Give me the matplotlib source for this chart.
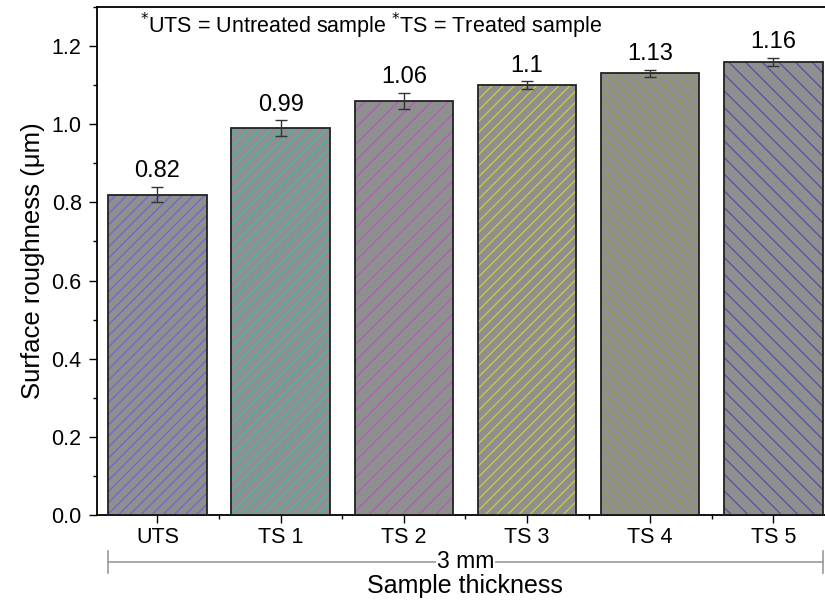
import numpy as np
import matplotlib.pyplot as plt
import matplotlib.transforms as mtransforms
from matplotlib.ticker import MultipleLocator

plt.rcParams['font.family'] = ['Liberation Sans', 'DejaVu Sans']
plt.rcParams['hatch.linewidth'] = 1.0

# data
samples = ["UTS", "TS 1", "TS 2", "TS 3", "TS 4", "TS 5"]
roughness = [0.82, 0.99, 1.06, 1.10, 1.13, 1.16]
errors = [0.02, 0.02, 0.02, 0.01, 0.01, 0.01]
labels = ["0.82", "0.99", "1.06", "1.1", "1.13", "1.16"]
hatch_colors = ["#6b6bd0", "#45b8a8", "#b060b8", "#c8c840", "#9a9a50", "#5656a8"]
hatches = ["///", "///", "//", "///", "\\\\\\", "\\\\"]

fig = plt.figure(figsize=(8.25, 6.03), dpi=100)
ax = fig.add_axes([0.1176, 0.146, 0.89, 0.8424])

x = np.arange(len(samples))
for i in range(len(samples)):
    ax.bar(x[i], roughness[i], width=0.8, color="#8f8f8f",
           edgecolor=hatch_colors[i], hatch=hatches[i], linewidth=0, zorder=2)
ax.bar(x, roughness, width=0.8, fill=False, edgecolor="#222222",
       linewidth=1.3, zorder=3)
ax.errorbar(x, roughness, yerr=errors, fmt="none", ecolor="#333333",
            elinewidth=1, capsize=4, capthick=1, zorder=4)

for i in range(len(samples)):
    ax.text(x[i], roughness[i] + errors[i] + 0.012, labels[i],
            ha="center", va="bottom", fontsize=17)

ax.set_xlim(-0.49, 5.47)
ax.set_ylim(0, 1.3)
ax.yaxis.set_major_locator(MultipleLocator(0.2))
ax.yaxis.set_minor_locator(MultipleLocator(0.1))
ax.set_xticks(x)
ax.set_xticklabels(samples, fontsize=15.5)
ax.set_xticks(x[:-1] + 0.5, minor=True)
ax.tick_params(axis="both", which="major", direction="out", length=6, width=1)
ax.tick_params(axis="both", which="minor", direction="out", length=3, width=1)
ax.tick_params(axis="y", labelsize=15.5, pad=5)
ax.tick_params(axis="x", pad=3)
for s in ax.spines.values():
    s.set_linewidth(1.3)

ax.set_ylabel("Surface roughness (\u03bcm)", fontsize=18.5, labelpad=5)

# legend note at top
ax.text(0.058, 0.993, "$^{*}$UTS = Untreated sample $^{*}$TS = Treated sample",
        transform=ax.transAxes, ha="left", va="top", fontsize=15.5)

# bracket under the ticks
trans = mtransforms.blended_transform_factory(ax.transData, ax.transAxes)
xl, xr = x[0] - 0.4, x[-1] + 0.4
yb = -0.0925
ax.plot([xl, xr], [yb, yb], color="#999999", lw=1.2, transform=trans, clip_on=False)
ax.plot([xl, xl], [yb - 0.022, yb + 0.022], color="#999999", lw=1.2, transform=trans, clip_on=False)
ax.plot([xr, xr], [yb - 0.022, yb + 0.022], color="#999999", lw=1.2, transform=trans, clip_on=False)
ax.text((xl + xr) / 2, yb, "3 mm", transform=trans, ha="center", va="center",
        fontsize=16.5, bbox=dict(facecolor="white", edgecolor="none", pad=0.5))
ax.text((xl + xr) / 2, -0.14, "Sample thickness", transform=trans,
        ha="center", va="center", fontsize=18)

plt.savefig("out.png", dpi=100)
